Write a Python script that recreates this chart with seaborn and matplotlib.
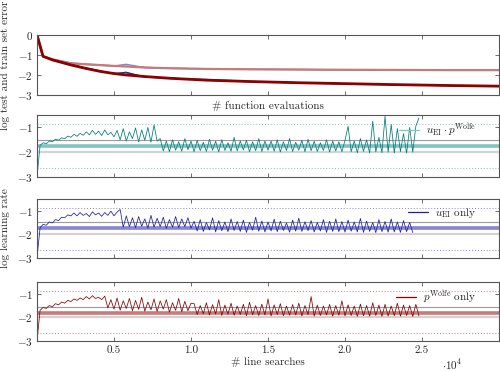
import matplotlib
matplotlib.use("Agg")
import matplotlib.pyplot as plt
import numpy as np
import seaborn as sns
from matplotlib.ticker import FuncFormatter

# top panel: log error against function evaluations
FE_X = [0, 390, 1000, 2200, 3200, 4150, 5000, 5780, 7000, 8700, 11000, 13900, 17000, 19100, 23000, 27000, 30000]
TRAIN_RED = [0, -1.07, -1.22, -1.42, -1.47, -1.51, -1.55, -1.58, -1.63, -1.67, -1.70, -1.72, -1.73, -1.74, -1.75, -1.76, -1.76]
TRAIN_BLUE = [0, -1.07, -1.22, -1.40, -1.46, -1.50, -1.55, -1.47, -1.63, -1.66, -1.70, -1.72, -1.73, -1.74, -1.75, -1.76, -1.76]
TRAIN_TEAL = [0, -1.07, -1.23, -1.42, -1.48, -1.52, -1.56, -1.56, -1.62, -1.67, -1.69, -1.71, -1.73, -1.74, -1.75, -1.75, -1.76]
TEST_TEAL = [0, -1.07, -1.26, -1.50, -1.67, -1.82, -1.92, -1.90, -2.10, -2.18, -2.22, -2.32, -2.38, -2.43, -2.48, -2.53, -2.56]
TEST_BLUE = [0, -1.07, -1.24, -1.48, -1.65, -1.80, -1.95, -1.86, -2.10, -2.15, -2.27, -2.34, -2.40, -2.44, -2.49, -2.54, -2.57]
TEST_RED = [0, -1.07, -1.25, -1.50, -1.68, -1.83, -1.93, -2.00, -2.08, -2.17, -2.26, -2.33, -2.39, -2.42, -2.48, -2.53, -2.56]

# learning rate traces, one value every LS_STEP line searches
LS_STEP = 200
LR_TEAL = [
    -3.0,
    -1.72, -1.62, -1.66, -1.55, -1.58, -1.47, -1.52, -1.42, -1.46, -1.35, -1.40, -1.28, -1.36, -1.24, -1.32,
    -1.18, -1.30, -1.12, -1.28, -1.15, -1.33, -1.10, -1.30, -1.20, -1.38,
    -1.12, -1.50, -1.05, -1.55, -1.18, -1.45, -1.02, -1.58, -1.10, -1.52, -1.00, -1.60, -0.90, -1.55, -1.45,
    -1.95, -1.55, -1.98, -1.50, -1.92, -1.58, -1.96, -1.45, -1.90, -1.55,
    -1.98, -1.52, -1.94, -1.60, -1.97, -1.48, -1.92, -1.56, -1.99, -1.50,
    -1.93, -1.62, -1.96, -1.40, -1.95, -1.55, -1.91, -1.52, -1.98, -1.58,
    -1.94, -1.45, -1.97, -1.55, -1.92,
    -1.55, -1.96, -1.50, -1.99, -1.58, -1.93, -1.45, -1.97, -1.60, -1.92,
    -1.52, -1.98, -1.48, -1.94, -1.56, -1.97, -1.62, -1.93, -1.50, -1.99,
    -1.55, -1.95, -1.58, -1.98, -1.52,
    -0.95, -1.98, -1.55, -2.02, -1.45, -1.97, -1.50, -2.03, -0.75, -1.99, -1.40, -2.02,
    -0.55, -2.00, -0.88, -2.03, -1.05, -1.98, -1.25, -2.04, -1.00, -2.00, -0.95, -0.62,
]
LR_BLUE = [
    -3.0,
    -1.72, -1.58, -1.62, -1.48, -1.52, -1.38, -1.42, -1.28, -1.30, -1.18, -1.22,
    -1.10, -1.22, -1.08, -1.20, -1.12, -1.25, -1.05, -1.18, -1.10, -1.24, -1.08, -1.20, -1.02, -1.22, -1.06, -0.95,
    -1.70, -1.22, -1.68, -1.30, -1.72, -1.25, -1.66, -1.35, -1.74, -1.20,
    -1.70, -1.32, -1.68, -1.28, -1.75, -1.38, -1.70, -1.25, -1.72, -1.35,
    -1.68, -1.30, -1.74,
    -1.45, -1.86, -1.38, -1.88, -1.50, -1.82, -1.30, -1.90,
    -1.42, -1.85, -1.48, -1.89, -1.35, -1.84, -1.46, -1.88,
    -1.40, -1.92, -1.50, -1.83, -1.28, -1.87, -1.44, -1.90,
    -1.48, -1.86, -1.36, -1.89, -1.45, -1.84, -1.52, -1.91,
    -1.40, -1.87, -1.32, -1.88, -1.47, -1.85, -1.42, -1.90,
    -1.50, -1.86, -1.38, -1.92, -1.45, -1.88, -1.35, -1.89,
    -1.46, -1.91, -1.40, -1.87, -1.48, -1.90, -1.33, -1.92,
    -1.44, -1.88, -1.50, -1.93, -1.38, -1.89, -1.46, -1.91,
    -1.35, -1.90, -1.48, -1.92, -1.42, -1.89, -1.50, -1.93,
]
LR_RED = [
    -3.0,
    -1.70, -1.58, -1.62, -1.50, -1.55, -1.42, -1.47, -1.35, -1.40, -1.28, -1.33, -1.22, -1.28, -1.18,
    -1.25, -1.12, -1.22, -1.08, -1.20, -1.15, -1.25, -1.10,
    -1.60, -1.25, -1.65, -1.18, -1.70, -1.30, -1.62, -1.20, -1.72, -1.28,
    -1.66, -1.15, -1.74, -1.35, -1.68, -1.22, -1.75, -1.30, -1.65, -1.25,
    -1.78, -1.38, -1.70, -1.20, -1.76, -1.32, -1.72, -1.40,
    -1.42, -1.88, -1.50, -1.85, -1.38, -1.90, -1.46, -1.86,
    -1.25, -1.92, -1.48, -1.87, -1.40, -1.91, -1.52, -1.88,
    -1.45, -1.93, -1.36, -1.89, -1.50, -1.92, -1.44, -1.90,
    -1.22, -1.94, -1.47, -1.88, -1.42, -1.93, -1.52, -1.91,
    -1.46, -1.90, -1.40, -1.94, -1.50, -1.89, -1.12, -1.95,
    -1.48, -1.92, -1.52, -1.90, -1.45, -1.95, -1.50, -1.91,
    -1.30, -1.94, -1.47, -1.92, -1.52, -1.96, -1.44, -1.93,
    -1.50, -1.95, -1.38, -1.92, -1.48, -1.96, -1.45, -1.94,
    -1.52, -1.93, -1.40, -1.95, -1.48, -1.92, -1.50, -1.96,
    -1.45, -1.94,
]

# reference levels per panel: mean, upper / lower gray band, dotted bounds
LR_MEAN = {"teal": -1.75, "blue": -1.73, "red": -1.80}
LR_BAND = {"teal": (-1.52, -2.0), "blue": (-1.50, -1.97), "red": (-1.55, -2.0)}
LR_BOUNDS = (-0.87, -2.65)

LABELS = {
    "teal": r"$u_{\mathrm{EI}}\cdot p^{\mathrm{Wolfe}}$",
    "blue": r"$u_{\mathrm{EI}}$ only",
    "red": r"$p^{\mathrm{Wolfe}}$ only",
}
DARK = {"teal": "#007a7a", "blue": "#1f1f9a", "red": "#8b0000"}
LIGHT = {"teal": "#7fc4c0", "blue": "#8585d6", "red": "#c77a7a"}

sns.set_style("ticks")
plt.rcParams["font.family"] = ["cmr10", "DejaVu Serif"]
plt.rcParams["mathtext.fontset"] = "cm"
plt.rcParams["axes.formatter.use_mathtext"] = True
plt.rcParams["axes.unicode_minus"] = True
plt.rcParams["font.size"] = 8

fig = plt.figure(figsize=(5.0, 3.71), dpi=100)
left, width = 0.074, 0.924
ax_top = fig.add_axes([left, 0.744, width, 0.162])
ax_lr = [
    fig.add_axes([left, 0.523, width, 0.167]),
    fig.add_axes([left, 0.305, width, 0.159]),
    fig.add_axes([left, 0.081, width, 0.159]),
]


def style_axis(ax):
    for sp in ax.spines.values():
        sp.set_color("#555555")
        sp.set_linewidth(0.8)
    ax.tick_params(direction="in", top=True, right=True, length=3, width=0.6,
                   color="#555555", labelsize=8, pad=3)
    ax.set_xlim(0, 30000)
    ax.set_xticks([5000, 10000, 15000, 20000, 25000])
    ax.grid(False)


def ylab(v, _):
    return r"$%d$" % v if v == 0 else r"$-%d$" % abs(v)


# top panel
for vals, col, lw in [
    (TRAIN_TEAL, LIGHT["teal"], 1.0),
    (TRAIN_BLUE, LIGHT["blue"], 1.0),
    (TRAIN_RED, LIGHT["red"], 1.6),
    (TEST_TEAL, DARK["teal"], 0.8),
    (TEST_BLUE, DARK["blue"], 0.8),
    (TEST_RED, DARK["red"], 2.0),
]:
    sns.lineplot(x=FE_X, y=vals, color=col, linewidth=lw, ax=ax_top)
style_axis(ax_top)
ax_top.set_ylim(-3, 0)
ax_top.set_yticks([0, -1, -2, -3])
ax_top.yaxis.set_major_formatter(FuncFormatter(ylab))
ax_top.set_xticklabels([])
ax_top.set_xlabel("# function evaluations", labelpad=1)
ax_top.set_ylabel("log test and train set error", labelpad=5)

for ax, key, vals in zip(ax_lr, ["teal", "blue", "red"], [LR_TEAL, LR_BLUE, LR_RED]):
    for b in LR_BOUNDS:
        ax.axhline(b, color=LIGHT[key], linestyle=(0, (1, 2)), linewidth=0.7)
    ax.axhline(LR_BAND[key][0], color="#9a9a9a", linewidth=0.8)
    ax.axhline(LR_BAND[key][1], color="#d2d2d2", linewidth=1.6)
    ax.axhline(LR_MEAN[key], color=LIGHT[key], linewidth=2.6)
    xs = np.arange(len(vals)) * LS_STEP
    sns.lineplot(x=xs, y=vals, color=DARK[key], linewidth=0.55, label=LABELS[key], ax=ax)
    style_axis(ax)
    ax.set_ylim(-3, -0.5)
    ax.set_yticks([-1, -2, -3])
    ax.yaxis.set_major_formatter(FuncFormatter(ylab))
    leg = ax.legend(loc="upper right", frameon=False, fontsize=8, handlelength=1.8,
                    borderaxespad=0.2, handletextpad=0.6, bbox_to_anchor=(0.965, 1.0))
    for ln in leg.get_lines():
        ln.set_color(LIGHT[key] if key == "teal" else DARK[key])
        ln.set_linewidth(0.9)
    ax.set_ylabel("")
    ax.set_xlabel("")

ax_lr[0].set_xticklabels([])
ax_lr[1].set_xticklabels([])
ax_lr[1].set_ylabel("log learning rate", labelpad=5)
ax_lr[2].xaxis.set_major_formatter(FuncFormatter(lambda v, _: "%.1f" % (v / 1e4)))
ax_lr[2].set_xlabel("# line searches", labelpad=2)
fig.text(0.885, 0.004, r"$\cdot 10^4$", fontsize=8)

fig.savefig("out.png", dpi=100)
